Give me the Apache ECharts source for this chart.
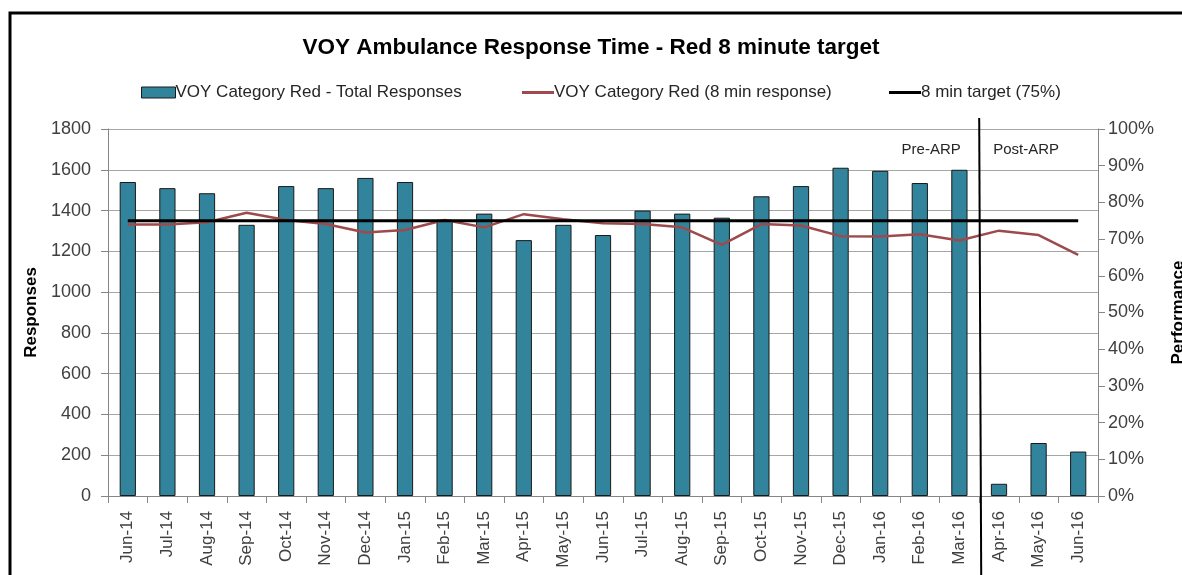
<!DOCTYPE html>
<html>
<head>
<meta charset="utf-8">
<script src="https://cdn.jsdelivr.net/npm/echarts@6/dist/echarts.min.js"></script>
<style>
  html, body { margin: 0; padding: 0; background: #fff; }
  #chart { width: 1182px; height: 575px; }
</style>
</head>
<body>
<div id="chart"></div>
<script>
// months shown on the category axis
const months = [
  'Jun-14', 'Jul-14', 'Aug-14', 'Sep-14', 'Oct-14', 'Nov-14', 'Dec-14',
  'Jan-15', 'Feb-15', 'Mar-15', 'Apr-15', 'May-15', 'Jun-15', 'Jul-15',
  'Aug-15', 'Sep-15', 'Oct-15', 'Nov-15', 'Dec-15', 'Jan-16', 'Feb-16',
  'Mar-16', 'Apr-16', 'May-16', 'Jun-16'
]
// bars, left axis
const totalResponses = [
  1540, 1510, 1485, 1330, 1520, 1510, 1560,
  1540, 1355, 1385, 1255, 1330, 1280, 1400,
  1385, 1365, 1470, 1520, 1610, 1595, 1535,
  1600, 60, 260, 218
]
// % within 8 min, right axis
const redPerformance = [
  74.0, 74.0, 74.6, 77.2, 75.2, 74.1, 71.8,
  72.5, 75.2, 73.2, 76.8, 75.4, 74.3, 74.1,
  73.2, 68.4, 74.1, 73.7, 70.8, 70.7, 71.3,
  69.6, 72.3, 71.1, 65.7
]
const targetLine = [
  75, 75, 75, 75, 75, 75, 75,
  75, 75, 75, 75, 75, 75, 75,
  75, 75, 75, 75, 75, 75, 75,
  75, 75, 75, 75
]
const responseTicks = { min: 0, max: 1800, interval: 200 }
const percentTicks = { min: 0, max: 100, interval: 10 }
const lastPreArp = 'Mar-16'

const FONT = "'Liberation Sans', Arial, sans-serif"
const txt = '#404040'
const grid = '#a6a6a6'
const axisLine = '#868686'

const chart = echarts.init(document.getElementById('chart'), null, { renderer: 'canvas' })

const legendBase = {
  top: 79,
  itemWidth: 32,
  itemHeight: 3,
  itemGap: 0,
  icon: 'rect',
  textStyle: { fontFamily: FONT, fontSize: 17, color: '#262626', padding: [0, 0, 0, -5] },
}

chart.setOption({
  animation: false,
  title: {
    text: 'VOY Ambulance Response Time - Red 8 minute target',
    left: 'center',
    top: 31,
    textStyle: { fontFamily: FONT, fontSize: 22.5, fontWeight: 'bold', color: '#000' },
  },
  legend: [
    Object.assign({}, legendBase, {
      left: 136, itemWidth: 34, itemHeight: 11,
      itemStyle: { borderWidth: 1, borderColor: '#1a1a1a' },
      data: ['VOY Category Red - Total Responses'],
    }),
    Object.assign({}, legendBase, { left: 517, data: ['VOY Category Red (8 min response)'] }),
    Object.assign({}, legendBase, { left: 884, data: ['8 min target (75%)'] }),
  ],
  grid: { left: 108, right: 84, top: 129, bottom: 79, outerBoundsMode: 'none' },
  xAxis: {
    type: 'category',
    data: months,
    axisLine: { lineStyle: { color: axisLine } },
    axisTick: { show: true, length: 7, lineStyle: { color: axisLine } },
    axisLabel: { rotate: 90, fontFamily: FONT, fontSize: 17, color: txt, margin: 15, interval: 0 },
  },
  yAxis: [
    Object.assign({
      type: 'value',
      name: 'Responses',
      nameLocation: 'middle',
      nameRotate: 90,
      nameGap: 66,
      nameTextStyle: { fontFamily: FONT, fontSize: 17, fontWeight: 'bold', color: '#000' },
      axisLine: { show: true, lineStyle: { color: axisLine } },
      axisTick: { show: true, length: 7, lineStyle: { color: axisLine } },
      axisLabel: { fontFamily: FONT, fontSize: 18, color: txt, margin: 17, formatter: (v) => String(v) },
      splitLine: { lineStyle: { color: grid } },
    }, responseTicks),
    Object.assign({
      type: 'value',
      name: 'Performance',
      nameLocation: 'middle',
      nameRotate: 90,
      nameGap: 72,
      nameTextStyle: { fontFamily: FONT, fontSize: 17, fontWeight: 'bold', color: '#000' },
      position: 'right',
      axisLine: { show: true, lineStyle: { color: axisLine } },
      axisTick: { show: true, length: 7, lineStyle: { color: axisLine } },
      axisLabel: { fontFamily: FONT, fontSize: 18, color: txt, margin: 10, formatter: '{value}%' },
      splitLine: { show: false },
    }, percentTicks),
  ],
  series: [
    {
      name: 'VOY Category Red - Total Responses',
      type: 'bar',
      data: totalResponses,
      barWidth: '41%',
      itemStyle: { color: '#31849b', borderColor: '#1a1a1a', borderWidth: 1 },
    },
    {
      name: 'VOY Category Red (8 min response)',
      type: 'line',
      yAxisIndex: 1,
      data: redPerformance,
      symbol: 'none',
      lineStyle: { color: '#9e4a4d', width: 2.5 },
      itemStyle: { color: '#9e4a4d' },
    },
    {
      name: '8 min target (75%)',
      type: 'line',
      yAxisIndex: 1,
      data: targetLine,
      symbol: 'none',
      lineStyle: { color: '#000', width: 3 },
      itemStyle: { color: '#000' },
      z: 3,
    },
  ],
})

// divider between Pre-ARP and Post-ARP, placed with the axis scale
const i = months.indexOf(lastPreArp)
const xa = chart.convertToPixel({ xAxisIndex: 0 }, i)
const xb = chart.convertToPixel({ xAxisIndex: 0 }, i + 1)
const xDiv = (xa + xb) / 2
const yTop = chart.convertToPixel({ yAxisIndex: 1 }, 100)
chart.setOption({
  graphic: [
    { type: 'rect', shape: { x: 10, y: 13, width: 1300, height: 700 },
      style: { fill: 'none', stroke: '#000', lineWidth: 3 }, silent: true },
    { type: 'line', shape: { x1: xDiv, y1: yTop - 11, x2: xDiv + 2, y2: 575 },
      style: { stroke: '#000', lineWidth: 2 }, z: 10, silent: true },
    { type: 'text', x: xDiv - 48, y: yTop + 21,
      style: { text: 'Pre-ARP', fontFamily: FONT, fontSize: 15, fill: '#262626', align: 'center', verticalAlign: 'middle' } },
    { type: 'text', x: xDiv + 47, y: yTop + 21,
      style: { text: 'Post-ARP', fontFamily: FONT, fontSize: 15, fill: '#262626', align: 'center', verticalAlign: 'middle' } },
  ],
})
</script>
</body>
</html>
